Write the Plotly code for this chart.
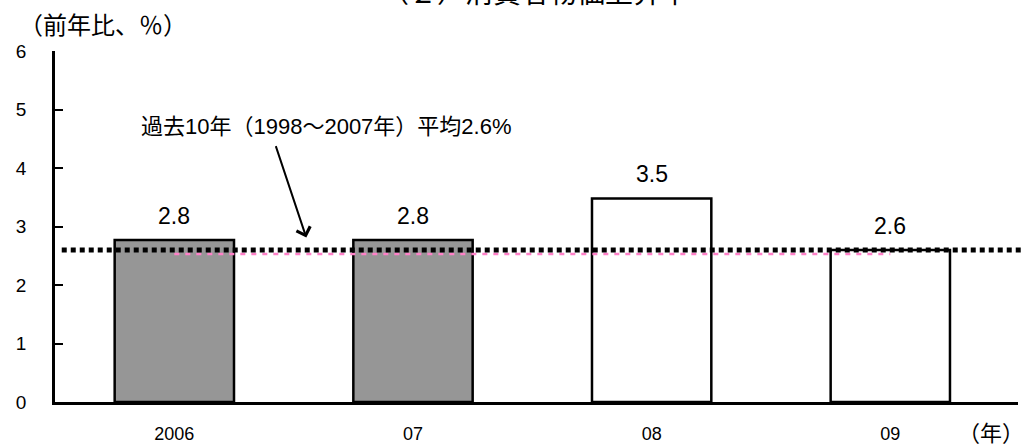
import plotly.graph_objects as go

# ---- data ----
categories = ["2006", "07", "08", "09"]
cpi_values = [2.77, 2.77, 3.48, 2.6]
value_labels = ["2.8", "2.8", "3.5", "2.6"]
bar_fills = ["#969696", "#969696", "#ffffff", "#ffffff"]
avg_10y = 2.6
pink_series = [2.53, 2.53, 2.53, 2.53]
y_ticks = [0, 1, 2, 3, 4, 5, 6]

title_text = "（２）消費者物価上昇率"
y_title = "（前年比、％）"
x_unit = "（年）"
avg_note = "過去10年（1998～2007年）平均2.6%"

FONT = "Liberation Sans, Arial, Noto Sans CJK JP, sans-serif"
CJK = "Noto Sans CJK JP, Liberation Sans, sans-serif"

fig = go.Figure()

positions = list(range(len(categories)))

fig.add_trace(go.Bar(
    x=positions, y=cpi_values, width=0.5,
    marker=dict(color=bar_fills, line=dict(color="black", width=2.5)),
    hoverinfo="skip", showlegend=False,
))

fig.add_trace(go.Scatter(
    x=positions, y=pink_series, mode="lines",
    line=dict(color="#ff80c8", width=2.5, dash="5px,6px"),
    hoverinfo="skip", showlegend=False,
))

# black dotted average line
fig.add_shape(type="line", xref="paper", yref="y",
              x0=0.007, x1=1.01, y0=avg_10y, y1=avg_10y,
              line=dict(color="black", width=5, dash="5px,4px"), layer="above")

# value labels
for p, v, t in zip(positions, cpi_values, value_labels):
    fig.add_annotation(x=p, y=v, xref="x", yref="y", text=t, showarrow=False,
                       yanchor="middle", yshift=24,
                       font=dict(family=FONT, size=23, color="black"))

# note text and arrow
fig.add_annotation(xref="paper", yref="paper", x=(326 - 55) / 963, y=(402.5 - 127) / 351.5,
                   text=avg_note, showarrow=False, xanchor="center", yanchor="middle",
                   font=dict(family=FONT, size=22, color="black"))
fig.add_annotation(x=0.553, y=2.81, xref="x", yref="y", text="", showarrow=True,
                   ax=-31, ay=-93, axref="pixel", ayref="pixel",
                   arrowhead=4, arrowsize=1.4, arrowwidth=2, arrowcolor="black")

# title (cut off at the top)
fig.add_annotation(xref="paper", yref="paper", x=(535 - 55) / 963, y=(402.5 + 7) / 351.5,
                   text=title_text, showarrow=False, xanchor="center", yanchor="middle",
                   font=dict(family=FONT, size=28, color="black"))
# y-axis title
fig.add_annotation(xref="paper", yref="paper", x=(103 - 55) / 963, y=(402.5 - 23) / 351.5,
                   text=y_title, showarrow=False, xanchor="center", yanchor="middle",
                   font=dict(family=CJK, size=24, color="black"))
# x unit
fig.add_annotation(xref="paper", yref="paper", x=(991 - 55) / 963, y=(402.5 - 432) / 351.5,
                   text=x_unit, showarrow=False, xanchor="center", yanchor="middle",
                   font=dict(family=CJK, size=22, color="black"))

fig.update_layout(
    width=1023, height=446,
    margin=dict(l=55, r=5, t=51, b=44, pad=0, autoexpand=False),
    paper_bgcolor="white", plot_bgcolor="white",
    font=dict(family=FONT, size=18, color="black"),
    xaxis=dict(range=[-0.5, 3.535], tickvals=positions, ticktext=categories,
               showgrid=False, zeroline=False, automargin=False,
               showline=True, linecolor="black", linewidth=3, ticks="",
               tickfont=dict(family=FONT, size=18), ticklabelstandoff=13),
    yaxis=dict(range=[0, 6], tickvals=y_ticks, showgrid=False, zeroline=False,
               automargin=False,
               showline=True, linecolor="black", linewidth=2.5,
               ticks="inside", ticklen=8, tickwidth=2, tickcolor="black",
               tickfont=dict(family=FONT, size=19), ticklabelstandoff=22),
)

fig.write_html("out.html")
